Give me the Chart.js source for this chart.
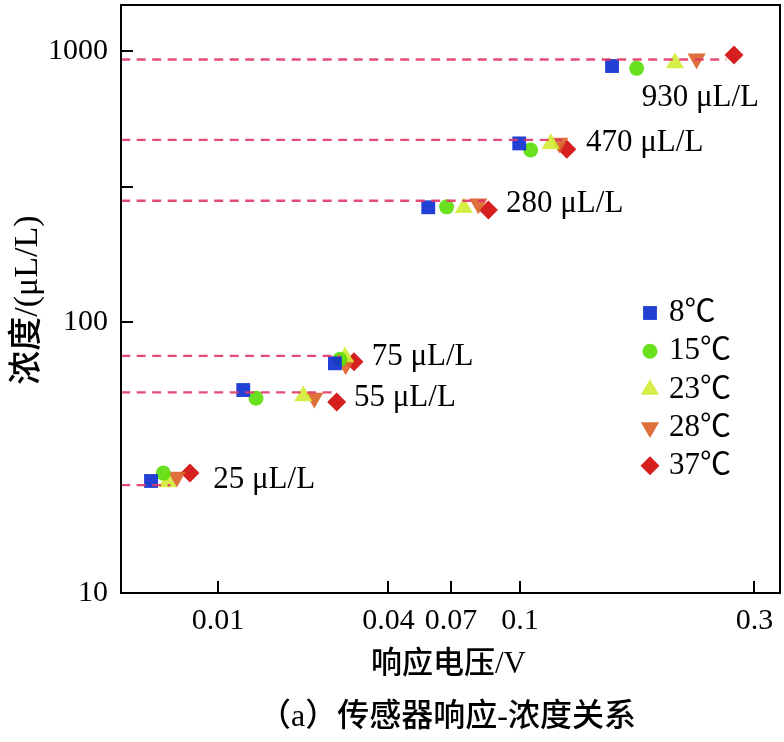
<!DOCTYPE html>
<html>
<head>
<meta charset="utf-8">
<script src="https://cdn.jsdelivr.net/npm/chart.js@4/dist/chart.umd.min.js"></script>
<style>
  html, body { margin: 0; padding: 0; background: #fff; }
  #c { display: block; }
</style>
</head>
<body>
<canvas id="c" width="784" height="742"></canvas>
<script>
    // 濃度等級 (μL/L)
    const levels = [25, 55, 75, 280, 470, 930];
    const temps = ['8℃', '15℃', '23℃', '28℃', '37℃'];

    // 響應電壓 (V)，順序同 levels
    const volt8  = [0.00580, 0.01228, 0.02588, 0.0571, 0.0996, 0.1539];
    const volt15 = [0.00641, 0.01362, 0.02697, 0.0673, 0.1051, 0.1727];
    const volt23 = [0.00664, 0.02001, 0.02809, 0.0748, 0.1155, 0.2067];
    const volt28 = [0.00715, 0.02188, 0.02823, 0.0806, 0.1202, 0.2287];
    const volt37 = [0.00796, 0.02625, 0.03022, 0.0849, 0.1245, 0.2725];

    // 實測濃度 (μL/L)
    const conc8  = [25.9, 56.1, 70.4, 265, 456, 880];
    const conc15 = [27.7, 52.3, 72.8, 266, 431, 863];
    const conc23 = [25.7, 53.3, 74.2, 264, 455, 903];
    const conc28 = [26.8, 52.4, 69.6, 273, 458, 937];
    const conc37 = [27.7, 50.7, 71.4, 259, 434, 967];

    // 虛線終點電壓
    const lineEnds = [0.0068, 0.0253, 0.0270, 0.0835, 0.1217, 0.263];

    const xTicks = [0.01, 0.04, 0.07, 0.1, 0.3];
    const yTicks = [10, 100, 316, 1000];

    const volts = [volt8, volt15, volt23, volt28, volt37];
    const concs = [conc8, conc15, conc23, conc28, conc37];

    const colors = ['rgba(16,48,208,0.92)', 'rgba(92,222,12,0.92)', 'rgba(212,236,56,0.92)', 'rgba(220,100,42,0.92)', 'rgba(210,12,12,0.92)'];
    const shapes = ['rect', 'circle', 'triangle', 'triangle', 'rectRot'];
    const rots = [0, 0, 0, 180, 0];
    const radii = [9.8, 7.5, 10.5, 10.5, 9.5];

    const FONT = '"Liberation Serif", "Noto Sans CJK SC", serif';
    const X_MIN = 0.00455, X_MAX = 0.338;

    // x 軸刻度在軸上的位置 (原圖刻度不等距)
    const xAnchor = [0.1472, 0.4059, 0.5008, 0.6055, 0.9613];
    const xLog = xTicks.map(Math.log10);

    function warp(v) {
        const L = Math.log10(v);
        let i = 0;
        while (i < xLog.length - 2 && L > xLog[i + 1]) i++;
        return xAnchor[i] + (L - xLog[i]) / (xLog[i + 1] - xLog[i]) * (xAnchor[i + 1] - xAnchor[i]);
    }
    function unwarp(d) {
        let i = 0;
        while (i < xAnchor.length - 2 && d > xAnchor[i + 1]) i++;
        const L = xLog[i] + (d - xAnchor[i]) / (xAnchor[i + 1] - xAnchor[i]) * (xLog[i + 1] - xLog[i]);
        return Math.pow(10, L);
    }

    const LinearScale = Chart.registry.getScale('linear');
    class WarpScale extends LinearScale {
        buildTicks() { return xTicks.map(v => ({ value: v })); }
        getPixelForValue(v) { return this.getPixelForDecimal(warp(v)); }
        getValueForPixel(p) { return unwarp(this.getDecimalForPixel(p)); }
    }
    WarpScale.id = 'warp';
    WarpScale.defaults = LinearScale.defaults;
    Chart.register(WarpScale);

    const datasets = [];
    levels.forEach((c, i) => {
        datasets.push({
            type: 'line',
            data: [{ x: X_MIN, y: c }, { x: lineEnds[i], y: c }],
            borderColor: 'rgba(226,56,102,0.9)',
            borderWidth: 2.4,
            borderDash: [9, 6.5],
            pointRadius: 0,
            order: 0
        });
    });
    temps.forEach((t, k) => {
        datasets.push({
            type: 'scatter',
            label: t,
            data: volts[k].map((v, i) => ({ x: v, y: concs[k][i] })),
            backgroundColor: colors[k],
            borderWidth: 0,
            pointStyle: shapes[k],
            pointRotation: rots[k],
            pointRadius: radii[k],
            order: 1
        });
    });

    function marker(ctx, shape, rot, r, x, y, color) {
        ctx.save();
        ctx.fillStyle = color;
        ctx.beginPath();
        if (shape === 'rect') {
            const s = r * Math.SQRT1_2;
            ctx.rect(x - s, y - s, 2 * s, 2 * s);
        } else if (shape === 'circle') {
            ctx.arc(x, y, r, 0, Math.PI * 2);
        } else if (shape === 'triangle') {
            let a = rot * Math.PI / 180;
            ctx.moveTo(x + Math.sin(a) * r, y - Math.cos(a) * r);
            a += Math.PI * 2 / 3;
            ctx.lineTo(x + Math.sin(a) * r, y - Math.cos(a) * r);
            a += Math.PI * 2 / 3;
            ctx.lineTo(x + Math.sin(a) * r, y - Math.cos(a) * r);
            ctx.closePath();
        } else {
            ctx.moveTo(x - r, y); ctx.lineTo(x, y - r); ctx.lineTo(x + r, y); ctx.lineTo(x, y + r);
            ctx.closePath();
        }
        ctx.fill();
        ctx.restore();
    }

    // 框線、內向刻度、標註文字、圖例、標題
    const decor = {
        id: 'decor',
        afterDraw(chart) {
            const ctx = chart.ctx, a = chart.chartArea;
            const xs = chart.scales.x, ys = chart.scales.y;
            ctx.save();
            ctx.strokeStyle = '#000';
            ctx.lineWidth = 2;
            ctx.strokeRect(a.left, a.top, a.right - a.left, a.bottom - a.top);
            ctx.beginPath();
            xTicks.forEach(v => {
                const px = Math.round(xs.getPixelForValue(v));
                ctx.moveTo(px, a.bottom); ctx.lineTo(px, a.bottom - 12);
            });
            yTicks.forEach(v => {
                const py = Math.round(ys.getPixelForValue(v));
                ctx.moveTo(a.left, py); ctx.lineTo(a.left + 12, py);
            });
            ctx.stroke();

            ctx.fillStyle = '#000';
            ctx.font = '31px ' + FONT;
            ctx.textBaseline = 'middle';
            ctx.textAlign = 'left';
            // 標註位置 (電壓, 濃度)
            const notes = [[0.00962, 26.1], [0.03021, 52.4], [0.03488, 74.5], [0.0930, 272], [0.1362, 460], [0.1768, 671]];
            levels.forEach((c, i) => {
                ctx.fillText(c + ' μL/L', xs.getPixelForValue(notes[i][0]), ys.getPixelForValue(notes[i][1]));
            });

            // 圖例
            const lx = a.right - 130, ly = a.top + 308;
            temps.forEach((t, k) => {
                const y = ly + k * 38.2;
                marker(ctx, shapes[k], rots[k], radii[k], lx, y, colors[k]);
                ctx.fillStyle = '#000';
                ctx.fillText(t, lx + 19, y);
            });

            ctx.textAlign = 'center';
            ctx.font = '500 31px ' + FONT;
            ctx.fillText('响应电压/V', (a.left + a.right) / 2 - 2, 665);
            ctx.font = '500 32px ' + FONT;
            ctx.fillText('（a）传感器响应-浓度关系', (a.left + a.right) / 2 - 3, 718);
            ctx.translate(28, 300);
            ctx.rotate(-Math.PI / 2);
            ctx.font = '500 34px ' + FONT;
            ctx.fillText('浓度/(μL/L)', 0, 0);
            ctx.restore();
        }
    };

    new Chart(document.getElementById('c'), {
        data: { datasets },
        options: {
            responsive: false,
            animation: false,
            layout: { autoPadding: false, padding: { left: 0, right: 4, top: 5, bottom: 0 } },
            plugins: { legend: { display: false }, tooltip: { enabled: false } },
            scales: {
                x: {
                    type: 'warp',
                    min: X_MIN,
                    max: X_MAX,
                    grid: { display: false, drawTicks: false },
                    border: { display: false },
                    ticks: {
                        autoSkip: false, maxRotation: 0, minRotation: 0,
                        padding: 10, color: '#000',
                        font: { family: FONT, size: 30 },
                        callback: v => String(v)
                    },
                    afterFit: s => { s.height = 149; s.paddingLeft = 0; s.paddingRight = 0; }
                },
                y: {
                    type: 'logarithmic',
                    min: 10,
                    max: 1478,
                    grid: { display: false, drawTicks: false },
                    border: { display: false },
                    afterBuildTicks: s => { s.ticks = yTicks.map(v => ({ value: v })); },
                    ticks: {
                        padding: 13, color: '#000',
                        font: { family: FONT, size: 30 },
                        callback: v => (v === 316 ? '' : String(v))
                    },
                    afterFit: s => { s.width = 121; s.paddingTop = 0; s.paddingBottom = 0; }
                }
            }
        },
        plugins: [decor]
    });
</script>
</body>
</html>
